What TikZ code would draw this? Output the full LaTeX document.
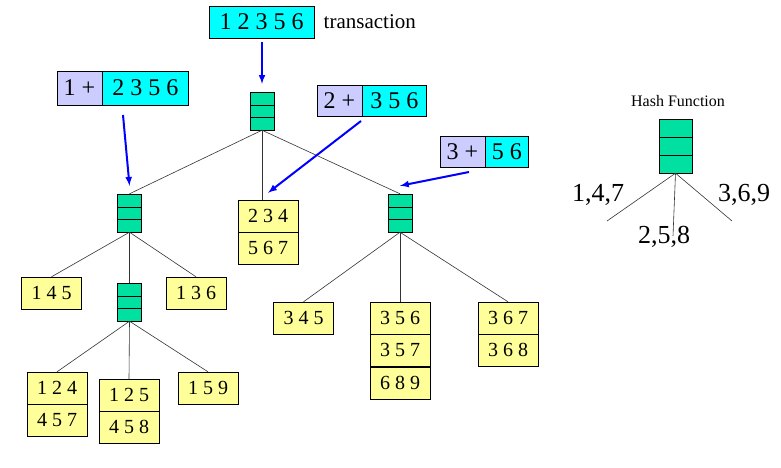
\documentclass[tikz,border=0pt]{standalone}
\usepackage{fontspec}
\setmainfont{Liberation Serif}
\usetikzlibrary{positioning}
\definecolor{hashgreen}{RGB}{0,224,160}
\definecolor{leafyellow}{RGB}{255,255,153}
\definecolor{itempurple}{RGB}{204,204,255}
\definecolor{itemcyan}{RGB}{0,255,255}
\tikzset{
  hnode/.style={draw, fill=hashgreen, minimum width=24pt, minimum height=38pt, inner sep=0pt,
    path picture={
      \draw ([yshift=6.3pt]path picture bounding box.west) -- ([yshift=6.3pt]path picture bounding box.east);
      \draw ([yshift=-6.3pt]path picture bounding box.west) -- ([yshift=-6.3pt]path picture bounding box.east);}},
  leaf/.style={draw, fill=leafyellow, minimum width=60pt, minimum height=32pt, inner sep=0pt,
    font=\fontsize{20}{20}\selectfont},
  pbox/.style={draw, fill=itempurple, minimum height=32pt, inner sep=0pt, font=\fontsize{24}{24}\selectfont},
  cbox/.style={draw, fill=itemcyan, minimum height=32pt, inner sep=0pt, font=\fontsize{24}{24}\selectfont},
  edge/.style={draw=black!80, line width=0.6pt},
  barrow/.style={draw=blue, line width=2pt, -latex}
}
\begin{document}
\begin{tikzpicture}[x=1pt, y=-1pt]
  \useasboundingbox (0,0) rectangle (781,467);
  % transaction and split items
  \node[cbox, minimum width=105pt] (trans) at (261.5,22) {1 2 3 5 6};
  \node[right=6pt of trans, font=\fontsize{21}{21}\selectfont] (translabel) {transaction};
  \node[pbox, minimum width=45pt, minimum height=34pt] (p1) at (79.5,88) {1 +};
  \node[cbox, minimum width=86pt, minimum height=34pt, right=0pt of p1] (c1) {2 3 5 6};
  \node[pbox, minimum width=45pt, minimum height=31pt] (p2) at (339.5,100.5) {2 +};
  \node[cbox, minimum width=64pt, minimum height=31pt, right=0pt of p2] (c2) {3 5 6};
  \node[pbox, minimum width=45pt, minimum height=31pt] (p3) at (462.5,151.5) {3 +};
  \node[cbox, minimum width=43pt, minimum height=31pt, right=0pt of p3] (c3) {5 6};

  % hash nodes
  \node[hnode] (root) at (262,111) {};
  \node[hnode] (lh) at (129.5,213) {};
  \node[hnode] (rh) at (400,213) {};
  \node[hnode] (llh) at (129.5,302) {};

  % leaves
  \node[leaf] (l234) at (268,216) {2 3 4};
  \node[leaf, below=0pt of l234] (l567) {5 6 7};
  \node[leaf] (l145) at (51.5,293) {1 4 5};
  \node[leaf] (l136) at (196,293) {1 3 6};
  \node[leaf] (l124) at (57,388) {1 2 4};
  \node[leaf, below=0pt of l124] (l457) {4 5 7};
  \node[leaf] (l125) at (129,395) {1 2 5};
  \node[leaf, below=0pt of l125] (l458) {4 5 8};
  \node[leaf] (l159) at (208,388) {1 5 9};
  \node[leaf] (l345) at (303.5,318) {3 4 5};
  \node[leaf] (l356) at (400,318) {3 5 6};
  \node[leaf, below=0pt of l356] (l357) {3 5 7};
  \node[leaf, below=0pt of l357] (l689) {6 8 9};
  \node[leaf] (l367) at (508,318) {3 6 7};
  \node[leaf, below=0pt of l367] (l368) {3 6 8};

  % tree edges
  \draw[edge] (root.south) -- (lh.north);
  \draw[edge] (root.south) -- (root.south |- l234.north);
  \draw[edge] (root.south) -- (rh.north);
  \foreach \t in {l145,llh,l136} \draw[edge] (lh.south) -- (\t.north);
  \foreach \t in {l124,l125,l159} \draw[edge] (llh.south) -- (\t.north);
  \foreach \t in {l345,l356,l367} \draw[edge] (rh.south) -- (\t.north);

  % blue arrows
  \coordinate (a1) at (123,115);
  \coordinate (a2) at (361,121);
  \coordinate (a3) at (469,172);
  \draw[barrow] ([yshift=-4pt]trans.south -| root) -- ([yshift=8pt]root.north);
  \draw[barrow] (a1) -- ([yshift=8pt]lh.north);
  \draw[barrow] (a2) -- ([yshift=7pt]l234.north);
  \draw[barrow] (a3) -- ([yshift=8pt]rh.north);

  % hash function legend
  \node[font=\fontsize{16}{16}\selectfont] (hflabel) at (678,101) {Hash Function};
  \node[hnode, minimum width=33pt, minimum height=54pt,
    path picture={
      \draw ([yshift=9pt]path picture bounding box.west) -- ([yshift=9pt]path picture bounding box.east);
      \draw ([yshift=-9pt]path picture bounding box.west) -- ([yshift=-9pt]path picture bounding box.east);}]
    (hf) at (675.5,146) {};
  \coordinate (hf1) at (607,221);
  \coordinate (hf2) at (673,236);
  \coordinate (hf3) at (732,221);
  \foreach \t in {hf1,hf2,hf3} \draw[edge] (hf.south) -- (\t);
  \node[font=\fontsize{26}{26}\selectfont] (k147) at (598,195) {1,4,7};
  \node[font=\fontsize{26}{26}\selectfont] (k258) at (664,237) {2,5,8};
  \node[font=\fontsize{26}{26}\selectfont] (k369) at (744,195) {3,6,9};
\end{tikzpicture}
\end{document}
